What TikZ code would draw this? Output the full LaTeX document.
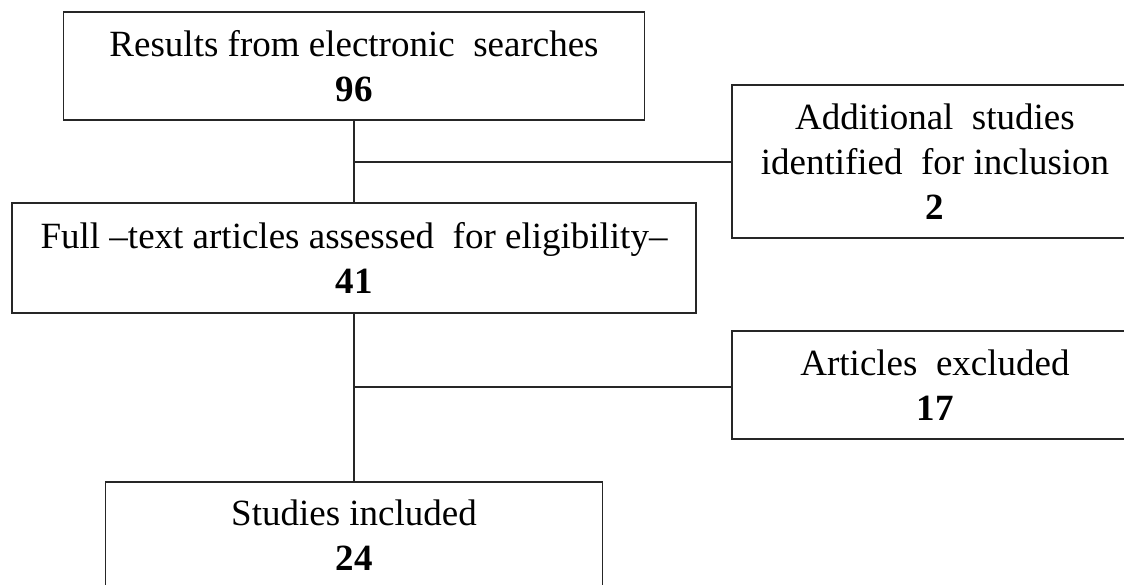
\documentclass[tikz,border=0pt]{standalone}
\usepackage{fontspec}
\setmainfont{Liberation Serif}
\begin{document}
\begin{tikzpicture}[x=1pt,y=-1pt,
  box/.style={draw=black!85, line width=1.6pt, inner sep=0pt, align=center,
    font=\fontsize{37}{45}\selectfont},
  conn/.style={draw=black!85, line width=1.6pt}]
\useasboundingbox (0,0) rectangle (1124,585);
\clip (0,0) rectangle (1124,585);
\node[box, minimum width=581pt, minimum height=108pt] (top) at (354,66)
  {Results from electronic\ \ searches\\\textbf{96}};
\node[box, minimum width=684pt, minimum height=110pt] (mid) at (354,258)
  {Full --text articles assessed\ \ for eligibility--\\\textbf{41}};
\node[box, minimum width=497pt, minimum height=106pt] (bot) at (354,535)
  {Studies included\\\textbf{24}};
\node[box, minimum width=406pt, minimum height=153pt] (add) at (935,161.5)
  {Additional\ \ studies\\identified\ \ for inclusion\\\textbf{2}};
\node[box, minimum width=406pt, minimum height=108pt] (exc) at (935,385)
  {Articles\ \ excluded\\\textbf{17}};
\coordinate (b1) at (354,162);
\coordinate (b2) at (354,387);
\draw[conn] (top.south) -- (mid.north);
\draw[conn] (mid.south) -- (bot.north);
\draw[conn] (b1) -- (b1 -| add.west);
\draw[conn] (b2) -- (b2 -| exc.west);
\end{tikzpicture}
\end{document}
